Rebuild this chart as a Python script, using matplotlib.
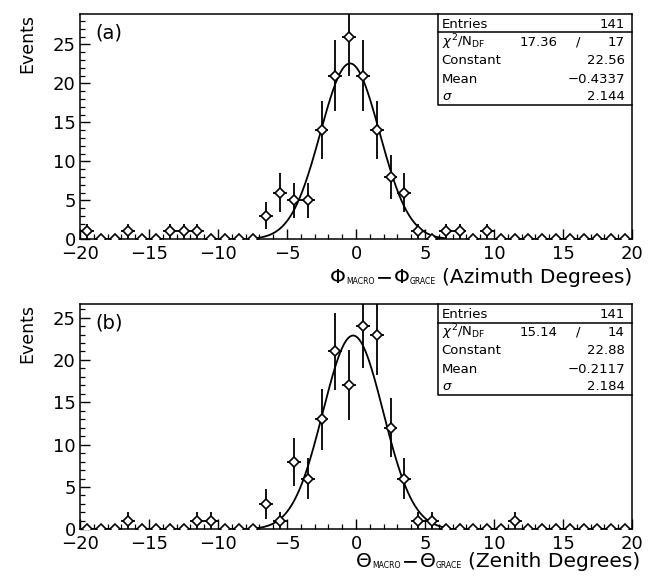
import numpy as np
import matplotlib
matplotlib.use("Agg")
import matplotlib.pyplot as plt
from matplotlib.ticker import MultipleLocator
from matplotlib.transforms import IdentityTransform

plt.rcParams['font.family'] = ['DejaVu Sans']
plt.rcParams['mathtext.fontset'] = 'dejavusans'

bin_centers = np.arange(-19.5, 20.0, 1.0)

counts_a = [1, 0, 0, 1, 0, 0, 1, 1, 1, 0,
            0, 0, 0, 3, 6, 5, 5, 14, 21, 26,
            21, 14, 8, 6, 1, 0, 1, 1, 0, 1,
            0, 0, 0, 0, 0, 0, 0, 0, 0, 0]
counts_b = [0, 0, 0, 1, 0, 0, 0, 0, 1, 1,
            0, 0, 0, 3, 1, 8, 6, 13, 21, 17,
            24, 23, 12, 6, 1, 1, 0, 0, 0, 0,
            0, 1, 0, 0, 0, 0, 0, 0, 0, 0]

fit_a = dict(entries=141, chi2="17.36", ndf="17", const=22.56, mean=-0.4337, sigma=2.144)
fit_b = dict(entries=141, chi2="15.14", ndf="14", const=22.88, mean=-0.2117, sigma=2.184)
fit_range = (-7.5, 6.5)

panel_labels = ["(a)", "(b)"]
xlabel_parts = [("\u03a6", "MACRO", "\u03a6", "GRACE", "(Azimuth Degrees)"),
                ("\u0398", "MACRO", "\u0398", "GRACE", "(Zenith Degrees)")]
ylims = [28.9, 26.6]
xticks = [-20, -15, -10, -5, 0, 5, 10, 15, 20]
xticklabels = ["\u221220", "\u221215", "\u221210", "\u22125", "0", "5", "10", "15", "20"]

W, H = 650, 578
fig = plt.figure(figsize=(6.5, 5.78), dpi=100)
axes = [fig.add_axes([0.1231, 0.586, 0.8492, 0.3898]),
        fig.add_axes([0.1231, 0.0842, 0.8492, 0.3898])]
renderer = fig.canvas.get_renderer()


def text_width(s, size):
    t = fig.text(0, 0, s, fontsize=size, transform=IdentityTransform())
    w = t.get_window_extent(renderer).width
    t.remove()
    return w


def composite_label(parts, x_right, baseline):
    big, small = 14.6, 5.6
    sym1, sub1, sym2, sub2, rest = parts
    pieces = [(sym1, big, 0, 0.5), (sub1, small, -1, 1.0), ("\u2212", big, 0, 0.5),
              (sym2, big, 0, 0.5), (sub2, small, -1, 5.5), (rest, big, 0, 0)]
    widths = [text_width(p[0], p[1]) + p[3] for p in pieces]
    x = x_right - sum(widths)
    for (s, size, dy, gap), w in zip(pieces, widths):
        fig.text(x, baseline + dy, s, fontsize=size, va='baseline', ha='left',
                 transform=IdentityTransform())
        x += w


label_pos = [(632, H - 283), (640, H - 567)]

for ax, counts, fit, plab, parts, ytop, lpos in zip(
        axes, [counts_a, counts_b], [fit_a, fit_b], panel_labels, xlabel_parts, ylims, label_pos):
    c = np.array(counts, dtype=float)
    err = np.sqrt(c)
    xf = np.linspace(fit_range[0], fit_range[1], 400)
    yf = fit['const'] * np.exp(-0.5 * ((xf - fit['mean']) / fit['sigma']) ** 2)
    ax.plot(xf, yf, color='black', lw=1.3, zorder=2)
    ax.errorbar(bin_centers, c, yerr=err, xerr=0.5, fmt='none', ecolor='black',
                elinewidth=1.3, capsize=0, zorder=3)
    ax.plot(bin_centers, c, ls='none', marker='D', ms=5, mfc='white', mec='black',
            mew=1.2, zorder=4)
    ax.set_xlim(-20, 20)
    ax.set_ylim(0, ytop)
    ax.set_xticks(xticks)
    ax.set_xticklabels(xticklabels)
    ax.xaxis.set_minor_locator(MultipleLocator(1))
    ax.yaxis.set_major_locator(MultipleLocator(5))
    ax.yaxis.set_minor_locator(MultipleLocator(1))
    ax.tick_params(axis='both', which='major', direction='in', length=7, width=1.0,
                   labelsize=13, top=False, right=False)
    ax.tick_params(axis='x', which='major', pad=4)
    ax.tick_params(axis='y', which='major', pad=3)
    ax.tick_params(axis='both', which='minor', direction='in', length=3.5, width=0.9,
                   top=False, right=False)
    for s in ax.spines.values():
        s.set_linewidth(1.1)
    ax.set_ylabel("Events", fontsize=12.5, loc='top', labelpad=12)
    ax.text(0.027, 0.915, plab, transform=ax.transAxes, fontsize=14, va='center', ha='left')
    composite_label(parts, lpos[0], lpos[1])

    # stats box
    bx0, by0 = 0.649, 0.596
    ax.plot([bx0, bx0, 1.0], [1.0, by0, by0], transform=ax.transAxes, color='black',
            lw=1.1, clip_on=False, zorder=5)
    ax.plot([bx0, 1.0], [0.918, 0.918], transform=ax.transAxes, color='black',
            lw=1.1, clip_on=False, zorder=5)
    fs = 9.5
    xl, xr = 0.655, 0.987
    rows_y = [0.955, 0.875, 0.792, 0.711, 0.632]
    ax.text(xl, rows_y[0], "Entries", transform=ax.transAxes, fontsize=fs, va='center')
    ax.text(xr, rows_y[0], str(fit['entries']), transform=ax.transAxes, fontsize=fs,
            va='center', ha='right')
    ax.text(xl, rows_y[1], r"$\chi^2$/N$_{\rm DF}$", transform=ax.transAxes, fontsize=fs,
            va='center')
    ax.text(0.866, rows_y[1], fit['chi2'], transform=ax.transAxes, fontsize=fs,
            va='center', ha='right')
    ax.text(0.902, rows_y[1], "/", transform=ax.transAxes, fontsize=fs,
            va='center', ha='center')
    ax.text(xr, rows_y[1], fit['ndf'], transform=ax.transAxes, fontsize=fs,
            va='center', ha='right')
    ax.text(xl, rows_y[2], "Constant", transform=ax.transAxes, fontsize=fs, va='center')
    ax.text(xr, rows_y[2], f"{fit['const']:.2f}", transform=ax.transAxes, fontsize=fs,
            va='center', ha='right')
    ax.text(xl, rows_y[3], "Mean", transform=ax.transAxes, fontsize=fs, va='center')
    ax.text(xr, rows_y[3], f"{fit['mean']:.4f}".replace('-', '\u2212'), transform=ax.transAxes,
            fontsize=fs, va='center', ha='right')
    ax.text(xl, rows_y[4], r"$\sigma$", transform=ax.transAxes, fontsize=fs, va='center')
    ax.text(xr, rows_y[4], f"{fit['sigma']:.3f}", transform=ax.transAxes, fontsize=fs,
            va='center', ha='right')

fig.savefig("out.png", dpi=100)
